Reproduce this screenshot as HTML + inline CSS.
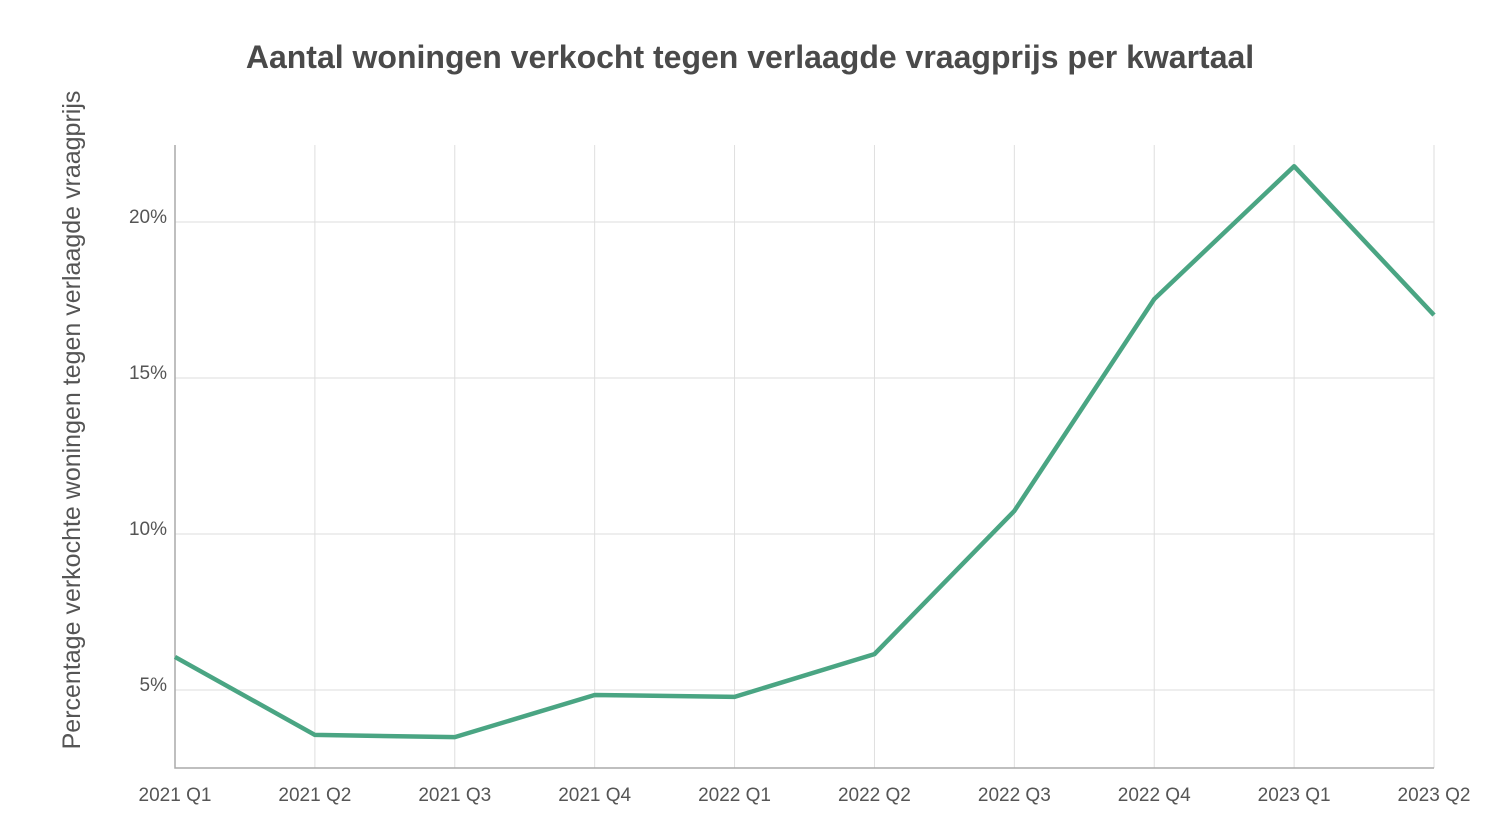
<!DOCTYPE html>
<html><head><meta charset="utf-8"><style>
body{margin:0;background:#fff;width:1500px;height:831px;overflow:hidden;font-family:"Liberation Sans","DejaVu Sans",sans-serif}
</style></head><body>
<svg id="chart" width="1500" height="831" xmlns="http://www.w3.org/2000/svg">
<text x="750" y="68" text-anchor="middle" font-size="32" font-weight="bold" fill="#4a4a4a">Aantal woningen verkocht tegen verlaagde vraagprijs per kwartaal</text>
<text transform="translate(80,420) rotate(-90)" text-anchor="middle" font-size="25" fill="#555">Percentage verkochte woningen tegen verlaagde vraagprijs</text>
<g id="grid"></g><g id="marks"></g>
</svg>
<script>
const categories=["2021 Q1","2021 Q2","2021 Q3","2021 Q4","2022 Q1","2022 Q2","2022 Q3","2022 Q4","2023 Q1","2023 Q2"];
const values=[6.06,3.56,3.49,4.84,4.78,6.15,10.74,17.53,21.79,17.02];
const yTicks=[5,10,15,20];
const yTickLabels=["5%","10%","15%","20%"];
const ns="http://www.w3.org/2000/svg";
const x0=175,x1=1434,yBot=768,yTop=145;
const yMin=2.5,yMax=22.47;
const xs=i=>x0+(x1-x0)*i/(categories.length-1);
const ys=v=>yBot-(v-yMin)/(yMax-yMin)*(yBot-yTop);
const grid=document.getElementById('grid'),marks=document.getElementById('marks');
function mk(t,a,p){const e=document.createElementNS(ns,t);for(const k in a)e.setAttribute(k,a[k]);p.appendChild(e);return e;}
yTicks.forEach((v,i)=>{
 const l=mk('line',{x1:x0,x2:x1,y1:ys(v),y2:ys(v),stroke:'#dedede','stroke-width':1},grid);
 
 
 const t=mk('text',{x:167,y:ys(v)+1,'text-anchor':'end','font-size':19,fill:'#555'},grid);
 t.textContent=yTickLabels[i];
 
 
});
categories.forEach((c,i)=>{
 const l=mk('line',{x1:xs(i),x2:xs(i),y1:yTop,y2:yBot,stroke:'#dedede','stroke-width':1},grid);
 
 
 const t=mk('text',{x:xs(i),y:801,'text-anchor':'middle','font-size':19,fill:'#555'},grid);
 t.textContent=c;
 
 
});
const ax=mk('path',{d:`M${x0} ${yTop}V${yBot}H${x1}`,fill:'none',stroke:'#aaa','stroke-width':1.5},grid);


const line=mk('polyline',{points:values.map((v,i)=>xs(i)+','+ys(v)).join(' '),fill:'none',stroke:'#4aa583','stroke-width':4.5,'stroke-linejoin':'round'},marks);


</script>
</body></html>
